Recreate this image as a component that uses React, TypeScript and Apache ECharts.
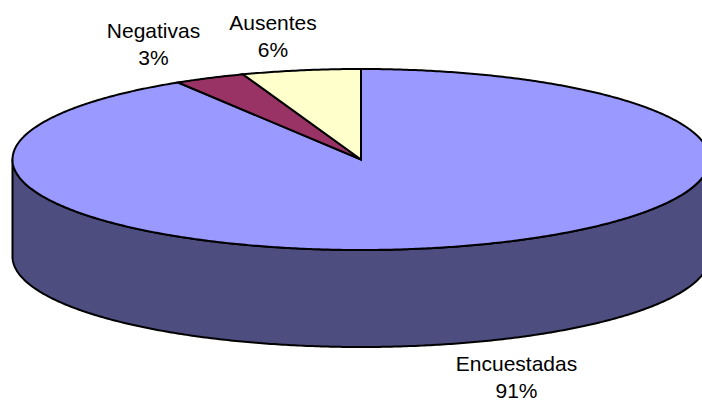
import React, { useEffect, useRef } from "react";
import * as echarts from "echarts";

const categories = ["Encuestadas", "Negativas", "Ausentes"];
const values = [91.2, 3.3, 5.5];
const topColors = ["#9999FF", "#993366", "#FFFFCC"];
const sideColors = ["#4D4D80", "#4D1A33", "#808066"];
const labelAnchors = [
  { x: 516.5, y: 377 },
  { x: 153.5, y: 44 },
  { x: 273, y: 36 },
];

const CX = 361;
const CY = 159.5;
const RX = 348.5;
const RY = 90.5;
const DEPTH = 97;
const STROKE = 2;
const FONT = '"Liberation Sans", Arial, sans-serif';

const total = values.reduce((a, b) => a + b, 0);
const pt = (deg: number, dy = 0): number[] => {
  const r = (deg * Math.PI) / 180;
  return [CX + RX * Math.sin(r), CY - RY * Math.cos(r) + dy];
};
const arc = (a: number, b: number, dy = 0): number[][] => {
  const n = Math.max(2, Math.ceil(Math.abs(b - a) * 2));
  const out: number[][] = [];
  for (let i = 0; i <= n; i++) out.push(pt(a + ((b - a) * i) / n, dy));
  return out;
};

function renderSlice(_params: any, api: any) {
  const i = api.value(0);
  const start = (values.slice(0, i).reduce((a, b) => a + b, 0) / total) * 360;
  const end = start + (values[i] / total) * 360;
  const children: any[] = [];
  const from = Math.max(start, 90);
  const to = Math.min(end, 270);
  if (to > from) {
    children.push({
      type: "polygon",
      shape: { points: [...arc(from, to), ...arc(to, from, DEPTH)] },
      style: { fill: sideColors[i], stroke: "#000", lineWidth: STROKE, lineJoin: "round" },
    });
  }
  children.push({
    type: "polygon",
    shape: { points: [[CX, CY], ...arc(start, end)] },
    style: { fill: topColors[i], stroke: "#000", lineWidth: STROKE, lineJoin: "miter" },
  });
  children.push({
    type: "text",
    x: labelAnchors[i].x,
    y: labelAnchors[i].y,
    style: {
      text: `${categories[i]}\n${Math.round(values[i])}%`,
      fill: "#000",
      font: `21px ${FONT}`,
      lineHeight: 27,
      align: "center",
      verticalAlign: "middle",
    },
  });
  return { type: "group", children };
}

export default function App() {
  const ref = useRef<HTMLDivElement>(null);
  useEffect(() => {
    const chart = echarts.init(ref.current!, undefined, { renderer: "svg" });
    chart.setOption({
      animation: false,
      backgroundColor: "#fff",
      series: [
        {
          type: "custom",
          coordinateSystem: "none",
          silent: true,
          clip: false,
          data: values.map((_, i) => [i, values[i]]),
          renderItem: renderSlice,
        },
      ],
    });
    return () => chart.dispose();
  }, []);
  return (
    <div
      ref={ref}
      style={{ position: "fixed", left: 0, top: 0, width: 702, height: 401, overflow: "hidden" }}
    />
  );
}
